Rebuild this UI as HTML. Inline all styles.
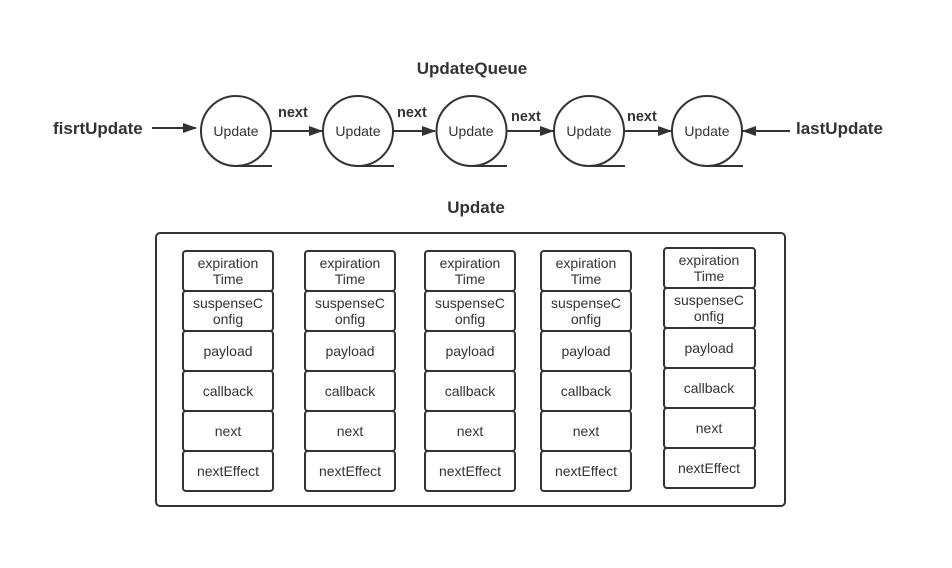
<!DOCTYPE html>
<html><head><meta charset="utf-8"><style>
html,body{margin:0;padding:0;background:#fff;}
svg{display:block;}
text{font-family:"Liberation Sans","DejaVu Sans",sans-serif;fill:#333;}
.b{font-weight:bold;font-size:17px;}
.n{font-weight:bold;font-size:14.5px;}
.c{font-size:14px;text-anchor:middle;}
.f{font-size:14px;text-anchor:middle;}
</style></head><body>
<svg width="952" height="568" viewBox="0 0 952 568" xmlns="http://www.w3.org/2000/svg">
<defs><marker id="a" markerWidth="14" markerHeight="10" refX="13" refY="5" orient="auto" markerUnits="userSpaceOnUse"><path d="M0,0 L14,5 L0,10 Z" fill="#333"/></marker></defs>
<text class="b" x="472" y="74" text-anchor="middle">UpdateQueue</text>
<text class="b" x="53" y="134">fisrtUpdate</text>
<text class="b" x="796" y="134">lastUpdate</text>
<g stroke="#333" stroke-width="2" fill="none">
<circle cx="236" cy="131" r="35"/><line x1="236" y1="166" x2="272" y2="166"/>
<circle cx="358" cy="131" r="35"/><line x1="358" y1="166" x2="394" y2="166"/>
<circle cx="471.5" cy="131" r="35"/><line x1="471" y1="166" x2="507" y2="166"/>
<circle cx="589" cy="131" r="35"/><line x1="589" y1="166" x2="625" y2="166"/>
<circle cx="707" cy="131" r="35"/><line x1="707" y1="166" x2="743" y2="166"/>
<line x1="152" y1="128" x2="196" y2="128" marker-end="url(#a)"/>
<line x1="271" y1="131" x2="322" y2="131" marker-end="url(#a)"/>
<line x1="393" y1="131" x2="435" y2="131" marker-end="url(#a)"/>
<line x1="506" y1="131" x2="553" y2="131" marker-end="url(#a)"/>
<line x1="624" y1="131" x2="671" y2="131" marker-end="url(#a)"/>
<line x1="790" y1="131" x2="743" y2="131" marker-end="url(#a)"/>
</g>
<text class="c" x="236" y="136">Update</text>
<text class="c" x="358" y="136">Update</text>
<text class="c" x="471" y="136">Update</text>
<text class="c" x="589" y="136">Update</text>
<text class="c" x="707" y="136">Update</text>
<text class="n" x="278" y="117">next</text>
<text class="n" x="397" y="117">next</text>
<text class="n" x="511" y="121">next</text>
<text class="n" x="627" y="121">next</text>
<text class="b" x="476" y="213" text-anchor="middle">Update</text>
<rect x="156" y="233" width="629" height="273" rx="4" fill="none" stroke="#333" stroke-width="2"/>
<g stroke="#333" stroke-width="2" fill="none">
<rect x="183" y="251" width="90" height="40" rx="3"/><rect x="183" y="291" width="90" height="40" rx="3"/><rect x="183" y="331" width="90" height="40" rx="3"/><rect x="183" y="371" width="90" height="40" rx="3"/><rect x="183" y="411" width="90" height="40" rx="3"/><rect x="183" y="451" width="90" height="40" rx="3"/>
<rect x="305" y="251" width="90" height="40" rx="3"/><rect x="305" y="291" width="90" height="40" rx="3"/><rect x="305" y="331" width="90" height="40" rx="3"/><rect x="305" y="371" width="90" height="40" rx="3"/><rect x="305" y="411" width="90" height="40" rx="3"/><rect x="305" y="451" width="90" height="40" rx="3"/>
<rect x="425" y="251" width="90" height="40" rx="3"/><rect x="425" y="291" width="90" height="40" rx="3"/><rect x="425" y="331" width="90" height="40" rx="3"/><rect x="425" y="371" width="90" height="40" rx="3"/><rect x="425" y="411" width="90" height="40" rx="3"/><rect x="425" y="451" width="90" height="40" rx="3"/>
<rect x="541" y="251" width="90" height="40" rx="3"/><rect x="541" y="291" width="90" height="40" rx="3"/><rect x="541" y="331" width="90" height="40" rx="3"/><rect x="541" y="371" width="90" height="40" rx="3"/><rect x="541" y="411" width="90" height="40" rx="3"/><rect x="541" y="451" width="90" height="40" rx="3"/>
<rect x="664" y="248" width="91" height="40" rx="3"/><rect x="664" y="288" width="91" height="40" rx="3"/><rect x="664" y="328" width="91" height="40" rx="3"/><rect x="664" y="368" width="91" height="40" rx="3"/><rect x="664" y="408" width="91" height="40" rx="3"/><rect x="664" y="448" width="91" height="40" rx="3"/>
</g>
<text class="f" x="228" y="268">expiration</text><text class="f" x="228" y="284">Time</text><text class="f" x="228" y="308">suspenseC</text><text class="f" x="228" y="324">onfig</text><text class="f" x="228" y="356">payload</text><text class="f" x="228" y="396">callback</text><text class="f" x="228" y="436">next</text><text class="f" x="228" y="476">nextEffect</text>
<text class="f" x="350" y="268">expiration</text><text class="f" x="350" y="284">Time</text><text class="f" x="350" y="308">suspenseC</text><text class="f" x="350" y="324">onfig</text><text class="f" x="350" y="356">payload</text><text class="f" x="350" y="396">callback</text><text class="f" x="350" y="436">next</text><text class="f" x="350" y="476">nextEffect</text>
<text class="f" x="470" y="268">expiration</text><text class="f" x="470" y="284">Time</text><text class="f" x="470" y="308">suspenseC</text><text class="f" x="470" y="324">onfig</text><text class="f" x="470" y="356">payload</text><text class="f" x="470" y="396">callback</text><text class="f" x="470" y="436">next</text><text class="f" x="470" y="476">nextEffect</text>
<text class="f" x="586" y="268">expiration</text><text class="f" x="586" y="284">Time</text><text class="f" x="586" y="308">suspenseC</text><text class="f" x="586" y="324">onfig</text><text class="f" x="586" y="356">payload</text><text class="f" x="586" y="396">callback</text><text class="f" x="586" y="436">next</text><text class="f" x="586" y="476">nextEffect</text>
<text class="f" x="709" y="265">expiration</text><text class="f" x="709" y="281">Time</text><text class="f" x="709" y="305">suspenseC</text><text class="f" x="709" y="321">onfig</text><text class="f" x="709" y="353">payload</text><text class="f" x="709" y="393">callback</text><text class="f" x="709" y="433">next</text><text class="f" x="709" y="473">nextEffect</text>
</svg>
</body></html>
